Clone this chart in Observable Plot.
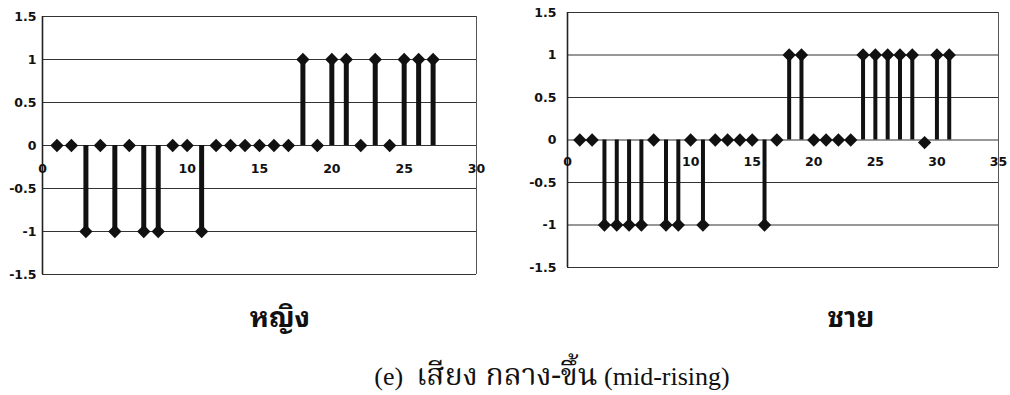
<!DOCTYPE html>
<html><head><meta charset="utf-8">
<script src="https://cdn.jsdelivr.net/npm/d3@7"></script>
<script src="https://cdn.jsdelivr.net/npm/@observablehq/plot@0.6"></script>
<style>
body{margin:0;background:#fff;}
#wrap{position:relative;width:1010px;height:395px;overflow:hidden;background:#fff;}
.chart{position:absolute;top:0;}
#labels{position:absolute;left:0;top:0;overflow:visible;}
</style></head><body><div id="wrap"></div>
<script>
// female (หญิง) series
const femaleX = [1,2,3,4,5,6,7,8,9,10,11,12,13,14,15,16,17,18,19,20,21,22,23,24,25,26,27];
const femaleY = [0,0,-1,0,-1,0,-1,-1,0,0,-1,0,0,0,0,0,0,1,0,1,1,0,1,0,1,1,1];
// male (ชาย) series
const maleX = [1,2,3,4,5,6,7,8,9,10,11,12,13,14,15,16,17,18,19,20,21,22,23,24,25,26,27,28,29,30,31];
const maleY = [0,0,-1,-1,-1,-1,0,-1,-1,0,-1,0,0,0,0,-1,0,1,1,0,0,0,0,1,1,1,1,1,-0.03,1,1];
// axes
const yTicks = [-1.5,-1,-0.5,0,0.5,1,1.5];
const femaleXTicks = [0,10,15,20,25,30];
const maleXTicks = [0,10,15,20,25,30,35];
const femaleXMax = 30, maleXMax = 35;
// labels
const femaleTitle = "หญิง";
const maleTitle = "ชาย";
const captionLabel = "(e)";
const captionThai = "เสียง กลาง-ขึ้น";
const captionEnglish = "(mid-rising)";

function chart(xs, ys, xTicks, xMax, opt) {
  const data = xs.map((x, i) => ({x, y: ys[i]}));
  return Plot.plot({
    width: opt.width, height: opt.height,
    marginLeft: opt.ml, marginRight: opt.mr, marginTop: opt.mt, marginBottom: opt.mb,
    style: {fontFamily: "'DejaVu Sans', sans-serif", fontSize: "12.5px", fontWeight: "bold", color: "#111", background: "transparent"},
    x: {domain: [0, xMax], axis: null},
    y: {domain: [-1.5, 1.5], axis: null},
    marks: [
      Plot.ruleY(yTicks, {stroke: "#333", strokeWidth: 1.2}),
      Plot.ruleX([0], {stroke: "#222", strokeWidth: 1.6}),
      Plot.ruleX([xMax], {stroke: "#555", strokeWidth: 1}),
      Plot.axisY(yTicks, {tickSize: 0, tickPadding: opt.tp, tickFormat: d => String(d), label: null, fontSize: 12.5, fill: "#111"}),
      Plot.text(xTicks, {x: d => d, y: 0, dy: opt.xdy, text: d => String(d), fill: "#111", fontSize: 12.5}),
      Plot.ruleX(data, {x: "x", y1: 0, y2: "y", stroke: "#111", strokeWidth: opt.sw}),
      Plot.dot(data, {x: "x", y: "y", symbol: "diamond2", r: 6, fill: "#111", stroke: null})
    ]
  });
}

const wrap = document.getElementById("wrap");
const left = chart(femaleX, femaleY, femaleXTicks, femaleXMax, {width: 490, height: 290, ml: 42, mr: 14, mt: 16, mb: 16, tp: 6, xdy: 23, sw: 5});
left.classList.add("chart"); left.style.left = "0px";
wrap.appendChild(left);
const right = chart(maleX, maleY, maleXTicks, maleXMax, {width: 510, height: 290, ml: 67, mr: 12, mt: 12, mb: 23, tp: 11, xdy: 22, sw: 4});
right.classList.add("chart"); right.style.left = "500px";
wrap.appendChild(right);

// titles and caption as real SVG text
const svg = d3.select(wrap).append("svg").attr("id", "labels").attr("width", 1010).attr("height", 395);
const titleFont = "'Noto Sans Thai Looped','Noto Serif Thai','Noto Sans Thai','Noto Sans',sans-serif";
svg.append("text").attr("x", 280).attr("y", 327).attr("text-anchor", "middle")
  .attr("font-family", titleFont).attr("font-weight", "bold").attr("font-size", 28).attr("fill", "#111").text(femaleTitle);
svg.append("text").attr("x", 851).attr("y", 327).attr("text-anchor", "middle")
  .attr("font-family", titleFont).attr("font-weight", "bold").attr("font-size", 28).attr("fill", "#111").text(maleTitle);
const cap = svg.append("text").attr("x", 552).attr("y", 385).attr("text-anchor", "middle")
  .attr("font-family", "'Liberation Serif',serif").attr("font-size", 26).attr("fill", "#111");
cap.append("tspan").text(captionLabel + "\u00a0\u00a0");
cap.append("tspan").attr("font-family", "'Noto Serif Thai','Noto Sans Thai',serif").attr("font-size", 30).text(captionThai);
cap.append("tspan").text(" " + captionEnglish);
</script>
</body></html>
